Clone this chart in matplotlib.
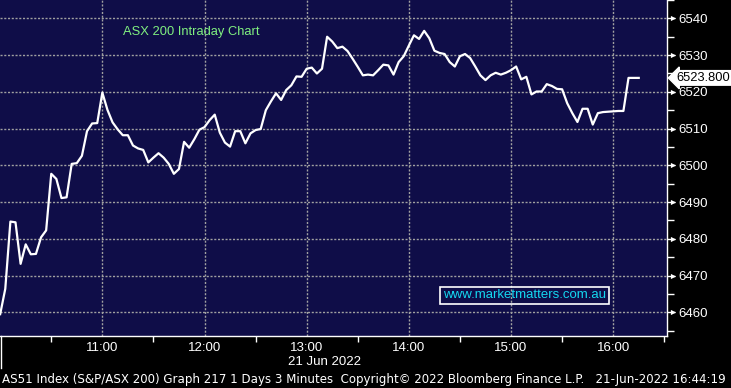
import matplotlib
matplotlib.use('Agg')
import matplotlib.pyplot as plt
import matplotlib.transforms as mtransforms
from matplotlib.lines import Line2D

# ASX 200 3-minute closes, 21 Jun 2022, starting 10:00
minutes = list(range(0, 378, 3))
values = [
    6459.5, 6466.4, 6484.7, 6484.5, 6473.2, 6478.5, 6475.8, 6475.9, 6480.4, 6482.3,
    6497.7, 6496.3, 6491.1, 6491.3, 6500.4, 6500.6, 6502.6, 6509.3, 6511.4, 6511.5,
    6519.8, 6515.1, 6511.7, 6509.8, 6508.2, 6508.2, 6505.4, 6504.6, 6504.2, 6500.8,
    6502.1, 6503.3, 6502.1, 6500.4, 6497.7, 6499.0, 6506.4, 6504.8, 6507.1, 6509.7,
    6510.4, 6512.3, 6513.8, 6508.9, 6506.2, 6505.1, 6509.3, 6509.3, 6506.0, 6508.7,
    6509.6, 6509.9, 6515.0, 6517.4, 6519.6, 6517.8, 6520.5, 6521.8, 6524.2, 6524.1,
    6526.3, 6526.6, 6525.0, 6526.3, 6535.0, 6533.7, 6531.9, 6532.3, 6531.1, 6529.0,
    6526.8, 6524.5, 6524.7, 6524.5, 6525.9, 6527.4, 6527.2, 6524.7, 6528.1, 6529.7,
    6532.6, 6535.4, 6534.4, 6536.6, 6534.6, 6531.2, 6530.6, 6530.3, 6528.1, 6526.9,
    6529.7, 6530.3, 6529.2, 6526.9, 6524.5, 6523.2, 6524.5, 6525.2, 6524.7, 6525.2,
    6525.9, 6526.9, 6523.4, 6524.1, 6519.3, 6520.1, 6520.1, 6522.1, 6521.6, 6520.8,
    6520.7, 6516.9, 6514.2, 6511.8, 6515.4, 6515.4, 6511.1, 6514.2, 6514.5, 6514.6,
    6514.7, 6514.8, 6514.8, 6523.8, 6523.8, 6523.8,
]
hour_ticks = [60, 120, 180, 240, 300, 360]
hour_labels = ['11:00', '12:00', '13:00', '14:00', '15:00', '16:00']
half_ticks = [30, 90, 150, 210, 270, 330, 390]
price_ticks = [6460, 6470, 6480, 6490, 6500, 6510, 6520, 6530, 6540]
last_price = 6523.8

plt.rcParams['font.family'] = ['Liberation Sans', 'DejaVu Sans']

W, H = 731, 388
fig = plt.figure(figsize=(W / 100, H / 100), dpi=100, facecolor='black')
ax = fig.add_axes([0, (H - 336) / H, 667 / W, 336 / H])
ax.set_facecolor('#0f0d48')

ax.plot(minutes, values, color='white', lw=1.6, zorder=3)

ax.set_xlim(-0.1, 391.6)
ax.set_ylim(6453.56, 6543.76)

ax.set_xticks(hour_ticks)
ax.set_xticklabels(hour_labels)
ax.set_xticks(half_ticks, minor=True)
ax.tick_params(axis='x', which='major', length=0, pad=4, colors='white', labelsize=9.5)
ax.tick_params(axis='x', which='minor', length=4, width=1, direction='out', color='white')

ax.yaxis.tick_right()
ax.set_yticks(price_ticks)
ax.set_yticklabels([str(p) for p in price_ticks])
ax.set_yticks([p + 5 for p in price_ticks] + [6455], minor=True)
ax.tick_params(axis='y', which='major', length=6, width=1, direction='out',
               color='white', colors='white', labelsize=9.5, pad=2.5)
ax.tick_params(axis='y', which='minor', length=5, width=1, direction='out', color='white')

ax.grid(True, which='major', color='#a0a0a0', lw=1.0, linestyle=(0, (1.5, 1.2)))

for side in ['top', 'left']:
    ax.spines[side].set_visible(False)
for side in ['right', 'bottom']:
    ax.spines[side].set_color('white')
    ax.spines[side].set_linewidth(1.0)

# arrow heads on major price ticks
trans = mtransforms.blended_transform_factory(ax.transAxes, ax.transData)
ax.scatter([1.009] * len(price_ticks), price_ticks, marker='>', s=14, color='white',
           transform=trans, clip_on=False, zorder=5, linewidths=0)

# last price tag
ax.text(1.0135, last_price, f'{last_price:.3f}', transform=trans, ha='left', va='center',
        fontsize=9.3, color='black', clip_on=False, zorder=6,
        bbox=dict(boxstyle='larrow,pad=0.1', fc='white', ec='white'))

fig.text(123 / W, 1 - 32 / H, 'ASX 200 Intraday Chart', color='#80f080', fontsize=9.3,
         ha='left', va='center')

fig.text(524.5 / W, 1 - 295.5 / H, 'www.marketmatters.com.au', color='#14d8f0',
         fontsize=9.5, ha='center', va='center',
         bbox=dict(boxstyle='square,pad=0.2', fc='none', ec='white', lw=1.2))

fig.text(325 / W, 1 - 362 / H, '21 Jun 2022', color='white', fontsize=9.5,
         ha='center', va='center')
fig.add_artist(Line2D([0.7 / W, 0.7 / W], [1 - 336 / H, 1 - 368 / H],
                      color='white', lw=1.0))
footer = fig.text(2 / W, 1 - 379 / H,
                  'AS51 Index (S&P/ASX 200) Graph 217 1 Days 3 Minutes  '
                  'Copyright\u00a9 2022 Bloomberg Finance L.P.   21-Jun-2022 16:44:19',
                  color='white', fontsize=9, ha='left', va='center',
                  family=['DejaVu Sans'], fontstretch='condensed')

# shrink the footer so it spans the same width as in the original
fig.canvas.draw()
w = footer.get_window_extent().width
footer.set_fontsize(9 * 726 / w)

fig.savefig('out.png', dpi=100, facecolor='black')
